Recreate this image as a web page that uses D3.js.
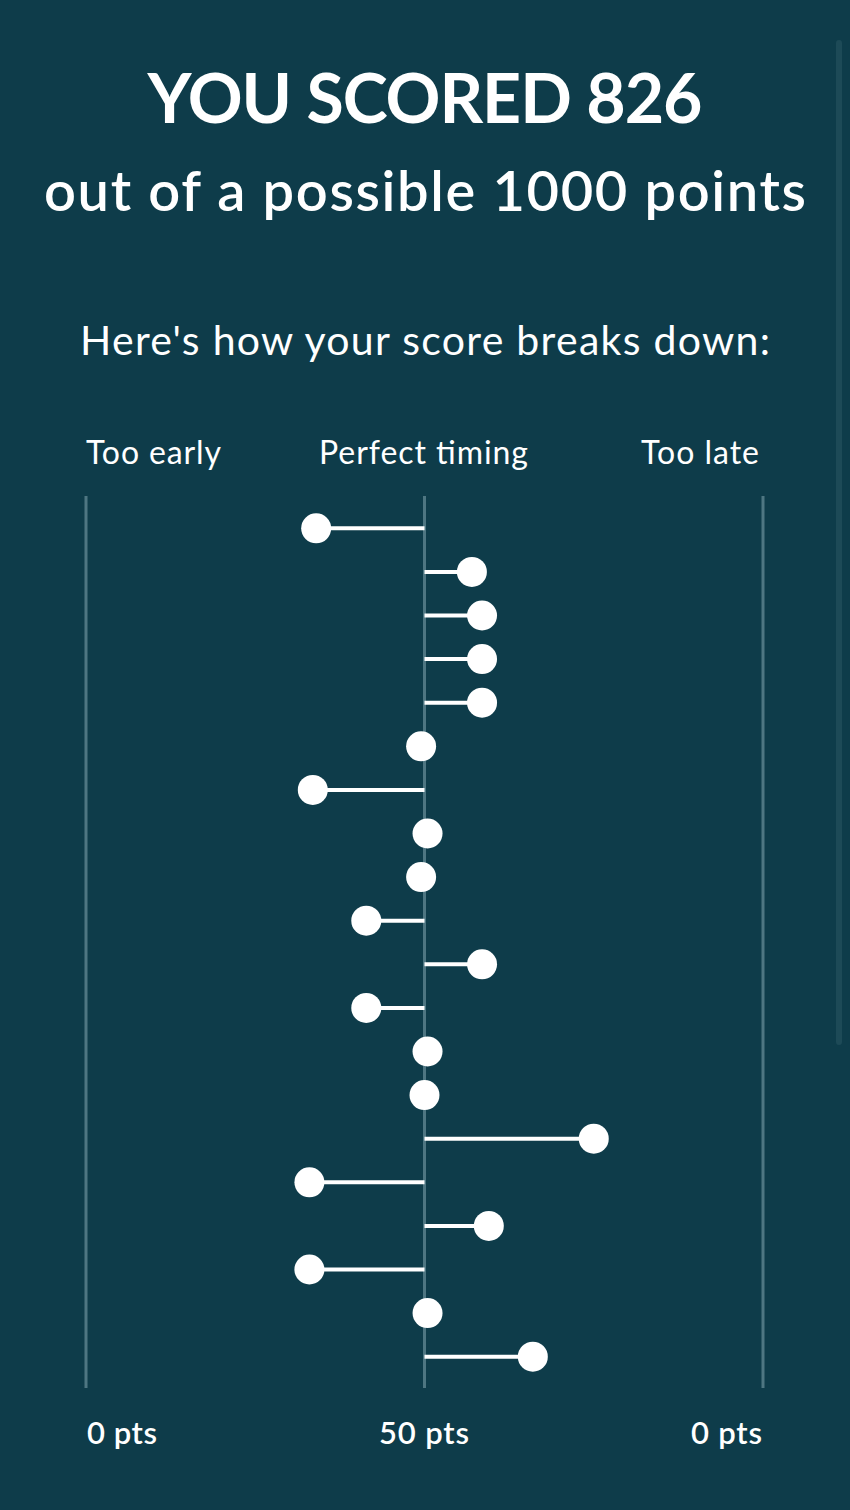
<!DOCTYPE html>
<html>
<head>
<meta charset="utf-8">
<script src="https://cdn.jsdelivr.net/npm/d3@7"></script>
<style>
  html, body { margin: 0; padding: 0; background: #0e3c4a; }
  svg { display: block; }
</style>
</head>
<body>
<div id="chart"></div>
<script>
// timing deviation per round, in points (negative = too early, positive = too late)
const rounds = d3.range(1, 21);
const deviation = [-16.0, 7.0, 8.5, 8.5, 8.5, -0.5, -16.5, 0.45, -0.5, -8.6,
                   8.5, -8.6, 0.45, 0, 25.0, -17.0, 9.5, -17.0, 0.45, 16.0];
const topLabels = ["Too early", "Perfect timing", "Too late"];
const bottomLabels = ["0 pts", "50 pts", "0 pts"];
const score = 826;
const maxScore = 1000;

const width = 850, height = 1510;
const bg = "#0e3c4a";
const axisColor = "#4e7682";

const svg = d3.select("#chart").append("svg")
    .attr("width", width)
    .attr("height", height);

svg.append("rect")
    .attr("width", width)
    .attr("height", height)
    .attr("fill", bg);

// faint scroll bar on the right edge
svg.append("rect")
    .attr("x", 836).attr("y", 40)
    .attr("width", 6).attr("height", 1005)
    .attr("rx", 3)
    .attr("fill", "#1d4a57");

// headings
svg.append("text")
    .attr("x", 425).attr("y", 123)
    .attr("text-anchor", "middle")
    .attr("fill", "#fff")
    .style("font-family", "Lato, sans-serif")
    .style("font-weight", "bold")
    .style("font-size", "68px")
    .attr("textLength", 555)
    .attr("lengthAdjust", "spacing")
    .text(`YOU SCORED ${score}`);

svg.append("text")
    .attr("x", 425).attr("y", 211)
    .attr("text-anchor", "middle")
    .attr("fill", "#fff")
    .style("font-family", "Lato, sans-serif")
    .style("font-weight", "600")
    .style("font-size", "56px")
    .attr("textLength", 762)
    .attr("lengthAdjust", "spacing")
    .text(`out of a possible ${maxScore} points`);

svg.append("text")
    .attr("x", 425).attr("y", 355)
    .attr("text-anchor", "middle")
    .attr("fill", "#fff")
    .style("font-family", "Lato, sans-serif")
    .style("font-size", "41px")
    .attr("textLength", 690)
    .attr("lengthAdjust", "spacing")
    .text("Here's how your score breaks down:");

// scales
const x = d3.scaleLinear()
    .domain([-50, 50])
    .range([86, 763]);

const y = d3.scalePoint()
    .domain(rounds)
    .range([528.3, 1356.7]);

const lineTop = 496, lineBottom = 1388;

// axis guides at -50, 0, 50
const guides = [-50, 0, 50];
svg.append("g")
    .selectAll("line")
    .data(guides)
    .join("line")
    .attr("x1", d => x(d)).attr("x2", d => x(d))
    .attr("y1", lineTop).attr("y2", lineBottom)
    .attr("stroke", axisColor)
    .attr("stroke-width", 3);

// labels above and below
const topX = [86, 319, 759];
const topLen = [135, 209, 118];
svg.append("g")
    .selectAll("text")
    .data(topLabels)
    .join("text")
    .attr("x", (d, i) => i === 2 ? topX[i] - topLen[i] : topX[i])
    .attr("y", 464)
    .attr("fill", "#fff")
    .style("font-family", "Lato, sans-serif")
    .style("font-size", "32px")
    .attr("textLength", (d, i) => topLen[i])
    .attr("lengthAdjust", "spacing")
    .text(d => d);

const botX = [87, 379, 691];
const botLen = [70, 90, 71];
svg.append("g")
    .selectAll("text")
    .data(bottomLabels)
    .join("text")
    .attr("x", (d, i) => botX[i])
    .attr("y", 1444)
    .attr("fill", "#fff")
    .style("font-family", "Lato, sans-serif")
    .style("font-weight", "600")
    .style("font-size", "31px")
    .attr("textLength", (d, i) => botLen[i])
    .attr("lengthAdjust", "spacing")
    .text(d => d);

// lollipops
const data = rounds.map((r, i) => ({ round: r, dev: deviation[i] }));
const marks = svg.append("g");

marks.selectAll("line")
    .data(data)
    .join("line")
    .attr("x1", x(0))
    .attr("x2", d => x(d.dev))
    .attr("y1", d => y(d.round))
    .attr("y2", d => y(d.round))
    .attr("stroke", "#fff")
    .attr("stroke-width", 4);

marks.selectAll("circle")
    .data(data)
    .join("circle")
    .attr("cx", d => x(d.dev))
    .attr("cy", d => y(d.round))
    .attr("r", 15)
    .attr("fill", "#fff");
</script>
</body>
</html>
